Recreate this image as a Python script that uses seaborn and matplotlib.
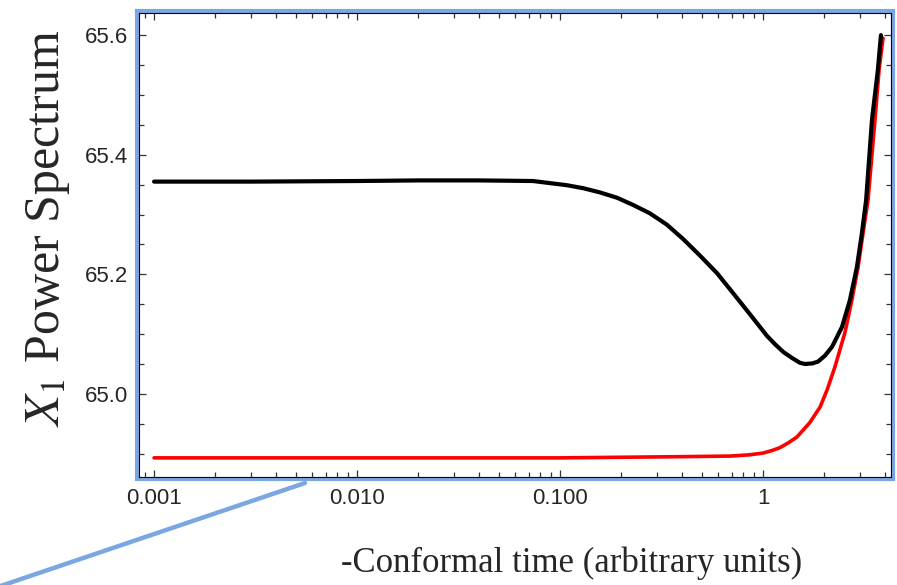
import pandas as pd
import seaborn as sns
import matplotlib.pyplot as plt
from matplotlib.lines import Line2D
from matplotlib.patches import Rectangle
from matplotlib.ticker import FixedLocator, FixedFormatter, LogLocator, MultipleLocator, NullFormatter

# black curve
black_t = [0.001, 0.003, 0.01, 0.02, 0.04, 0.0736, 0.108, 0.130, 0.157, 0.191,
           0.229, 0.277, 0.336, 0.404, 0.490, 0.593, 0.714, 0.863, 0.95, 1.046,
           1.146, 1.26, 1.39, 1.52, 1.61, 1.75, 1.866, 2.02, 2.19, 2.45, 2.68,
           2.90, 3.07, 3.22, 3.44, 3.68, 3.81]
black_p = [65.355, 65.355, 65.356, 65.357, 65.357, 65.356, 65.349, 65.344,
           65.337, 65.328, 65.316, 65.302, 65.283, 65.259, 65.231, 65.202,
           65.168, 65.133, 65.115, 65.097, 65.083, 65.070, 65.060, 65.052,
           65.050, 65.051, 65.054, 65.064, 65.079, 65.112, 65.157, 65.212,
           65.269, 65.324, 65.458, 65.542, 65.600]

# red curve
red_t = [0.001, 0.01, 0.1, 0.39, 0.688, 0.85, 1.0, 1.1, 1.21, 1.33, 1.47,
         1.70, 1.91, 2.07, 2.26, 2.53, 2.74, 2.94, 3.11, 3.29, 3.56, 3.73, 3.90]
red_p = [64.893, 64.893, 64.893, 64.895, 64.896, 64.898, 64.901, 64.905,
         64.910, 64.918, 64.928, 64.952, 64.978, 65.007, 65.045, 65.102,
         65.157, 65.212, 65.269, 65.324, 65.458, 65.542, 65.595]

xtick_vals = [0.001, 0.01, 0.1, 1]
xtick_labels = ["0.001", "0.010", "0.100", "1"]

sns.set_style("ticks")
plt.rcParams['font.family'] = ['Liberation Sans', 'DejaVu Sans']
plt.rcParams['mathtext.fontset'] = 'stix'

fig = plt.figure(figsize=(8.97, 5.85), dpi=100)
ax = fig.add_axes([139 / 897, 1 - 477 / 585, 752 / 897, 464 / 585])

df_red = pd.DataFrame({'t': red_t, 'p': red_p})
df_black = pd.DataFrame({'t': black_t, 'p': black_p})
sns.lineplot(data=df_red, x='t', y='p', color='#ff0000', lw=2.6, ax=ax)
sns.lineplot(data=df_black, x='t', y='p', color='black', lw=3.0, ax=ax)

ax.set_xscale('log')
ax.set_xlim(0.000843, 4.27)
ax.set_ylim(64.861, 65.637)
ax.set_xlabel('')
ax.set_ylabel('')

ax.xaxis.set_major_locator(FixedLocator(xtick_vals))
ax.xaxis.set_major_formatter(FixedFormatter(xtick_labels))
ax.xaxis.set_minor_locator(LogLocator(base=10, subs=range(2, 10)))
ax.xaxis.set_minor_formatter(NullFormatter())
ax.yaxis.set_major_locator(MultipleLocator(0.2))
ax.yaxis.set_minor_locator(MultipleLocator(0.05))
ax.yaxis.set_major_formatter(plt.FuncFormatter(lambda v, p: f"{v:.1f}"))

ax.tick_params(which='both', direction='in', top=True, right=True,
               color='#333333', width=0.9)
ax.tick_params(which='major', length=5, labelsize=16, pad=8)
ax.tick_params(which='minor', length=3.5)

for s in ax.spines.values():
    s.set_color('black')
    s.set_linewidth(0.8)

# light blue frame round the plot, set just outside the spines
dx, dy = 2 / 752, 2 / 464
ax.add_patch(Rectangle((-dx, -dy), 1 + 2 * dx, 1 + 2 * dy, transform=ax.transAxes,
                       fill=False, edgecolor='#7aa7e2', lw=3.0, clip_on=False,
                       zorder=2.2))

# blue pointer line below the axes
fig.add_artist(Line2D([0.0, 305 / 897], [-0.002, 1 - 483 / 585],
                      color='#7aa7e2', lw=3.2, transform=fig.transFigure))

fig.text(48 / 897, 1 - 228 / 585, r"$X_1$ Power Spectrum", rotation=90,
         ha='center', va='center', fontsize=36, family='Liberation Serif')
fig.text(572 / 897, 1 - 563 / 585, "-Conformal time (arbitrary units)",
         ha='center', va='center', fontsize=25, family='Liberation Serif')

plt.savefig('out.png', dpi=100)
plt.close()
